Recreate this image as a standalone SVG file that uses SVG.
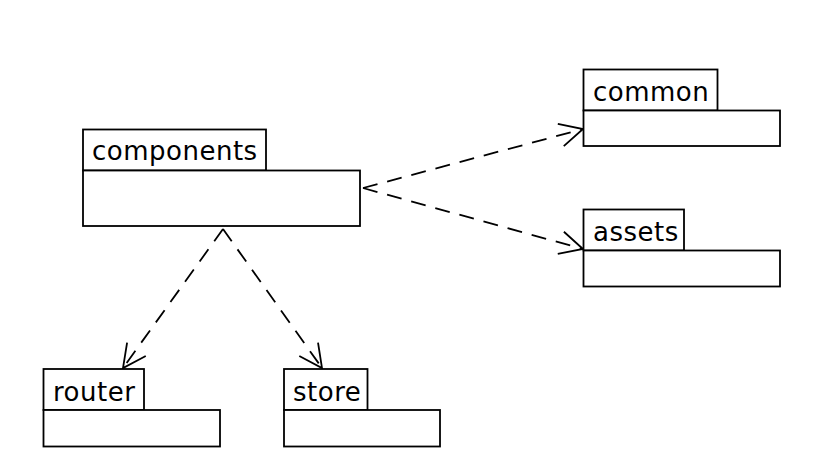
<svg xmlns="http://www.w3.org/2000/svg" width="830" height="476" viewBox="0 0 830 476">
<style>
.box{fill:#fff;stroke:#000;stroke-width:1.8}
.lbl{font-family:"DejaVu Sans",sans-serif;font-size:26px;letter-spacing:0.5px;fill:#000}
.dep{fill:none;stroke:#000;stroke-width:1.8;stroke-dasharray:15,10}
</style>
<defs>
<marker id="open" viewBox="-26 -14 28 28" refX="0" refY="0" markerWidth="28" markerHeight="28" markerUnits="userSpaceOnUse" orient="auto" overflow="visible">
<path d="M-23,-11.5 L0,0 L-23,11.5" fill="none" stroke="#000" stroke-width="1.8"/>
</marker>
</defs>
<rect width="830" height="476" fill="#fff"/>
<g id="connectors">
<line class="dep" x1="363" y1="188" x2="583" y2="129" marker-end="url(#open)"/>
<line class="dep" x1="363" y1="188" x2="583" y2="249" marker-end="url(#open)"/>
<line class="dep" x1="223" y1="229" x2="123" y2="368" marker-end="url(#open)"/>
<line class="dep" x1="223" y1="229" x2="322" y2="368" marker-end="url(#open)"/>
</g>
<g id="components">
<rect class="box" x="83" y="129.5" width="183" height="41"/>
<rect class="box" x="83" y="170.5" width="277" height="55.5"/>
<text class="lbl" x="92" y="160">components</text>
</g>
<g id="common">
<rect class="box" x="583.5" y="69.5" width="134" height="41"/>
<rect class="box" x="583.5" y="110.5" width="196.5" height="35.5"/>
<text class="lbl" x="593" y="101">common</text>
</g>
<g id="assets">
<rect class="box" x="583.5" y="209.5" width="100.5" height="41"/>
<rect class="box" x="583.5" y="250.5" width="196.5" height="36"/>
<text class="lbl" x="593" y="241">assets</text>
</g>
<g id="router">
<rect class="box" x="43.5" y="369" width="100.5" height="41"/>
<rect class="box" x="43.5" y="410" width="176.5" height="36.5"/>
<text class="lbl" x="53" y="401">router</text>
</g>
<g id="store">
<rect class="box" x="284" y="369" width="83.5" height="41"/>
<rect class="box" x="284" y="410" width="156" height="36.5"/>
<text class="lbl" x="293" y="401">store</text>
</g>
</svg>
